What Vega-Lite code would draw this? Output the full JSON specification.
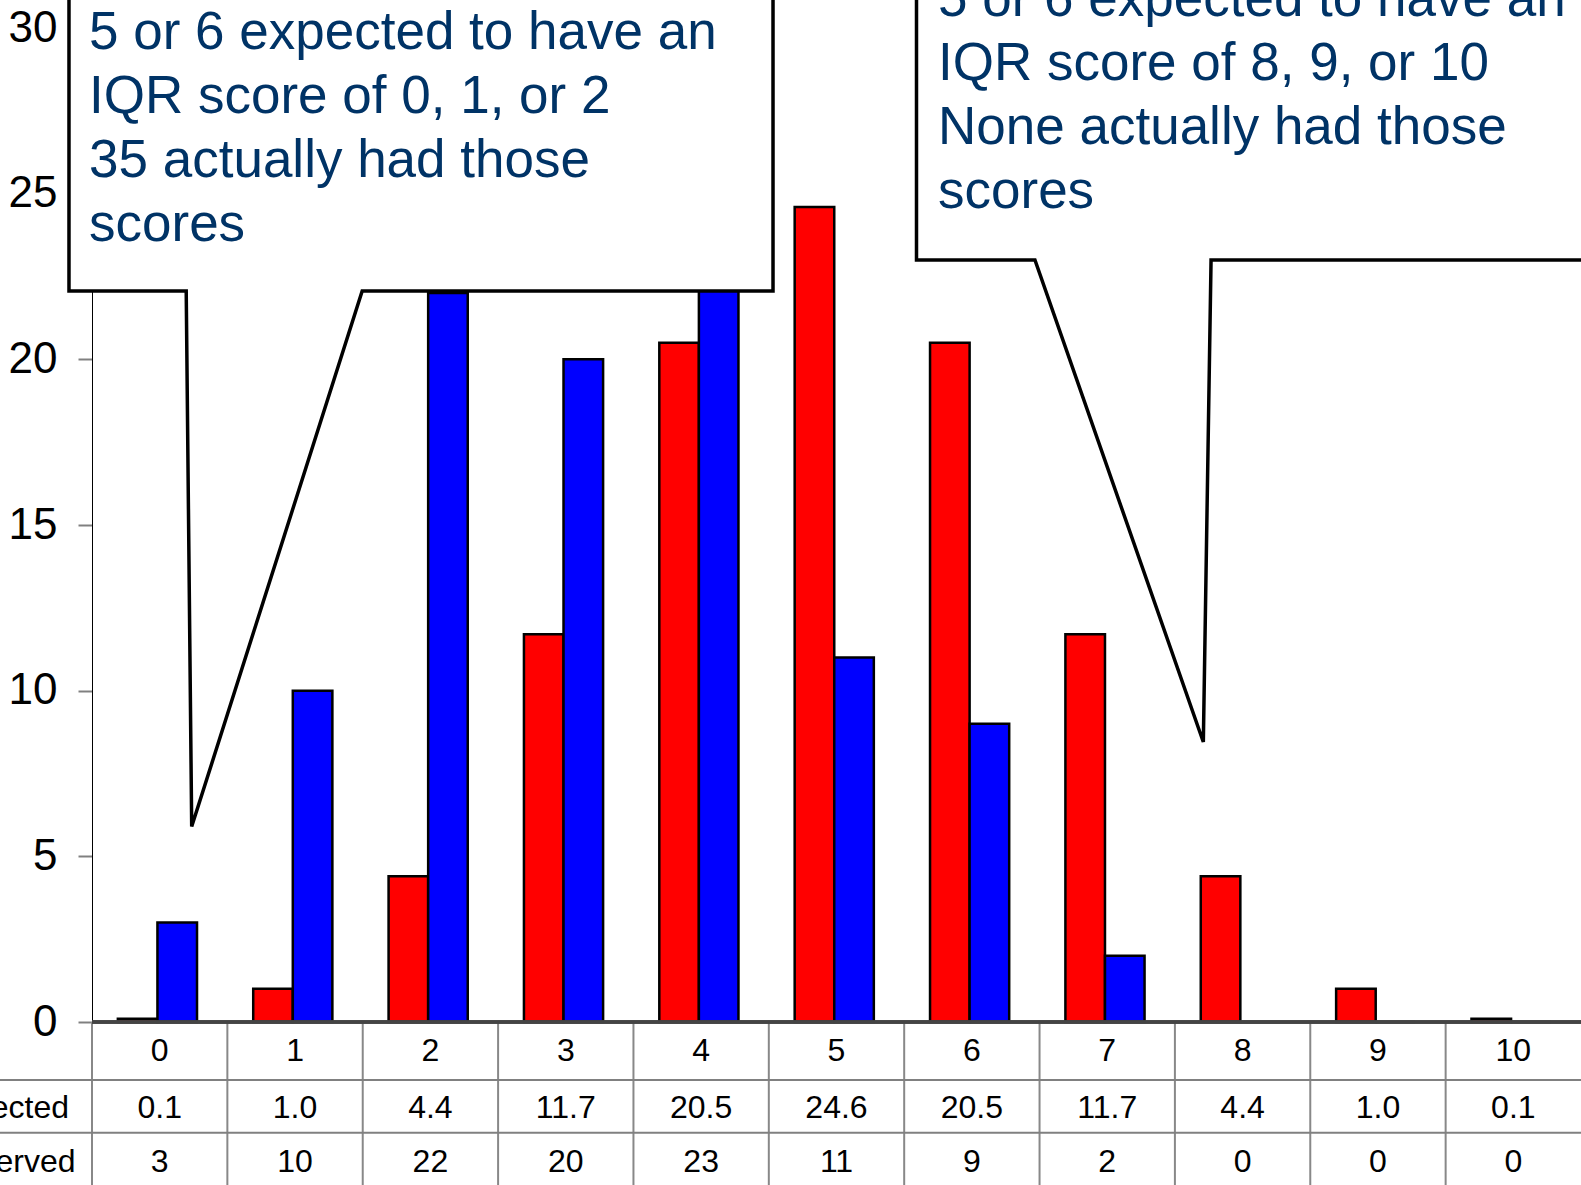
{
  "$schema": "https://vega.github.io/schema/vega-lite/v6.json",
  "width": 1489,
  "height": 994,
  "autosize": {"type": "none"},
  "padding": {"left": 92, "top": 28, "right": 0, "bottom": 163},
  "background": "white",
  "config": {"view": {"stroke": null}, "font": "Liberation Sans"},
  "datasets": {
    "scores": [
      {"score": 0, "expected": 0.1, "observed": 3},
      {"score": 1, "expected": 1.0, "observed": 10},
      {"score": 2, "expected": 4.4, "observed": 22},
      {"score": 3, "expected": 11.7, "observed": 20},
      {"score": 4, "expected": 20.5, "observed": 23},
      {"score": 5, "expected": 24.6, "observed": 11},
      {"score": 6, "expected": 20.5, "observed": 9},
      {"score": 7, "expected": 11.7, "observed": 2},
      {"score": 8, "expected": 4.4, "observed": 0},
      {"score": 9, "expected": 1.0, "observed": 0},
      {"score": 10, "expected": 0.1, "observed": 0}
    ],
    "leftCallout": [
      {"i": 0, "x": -0.17, "y": 33},
      {"i": 1, "x": -0.17, "y": 22.06},
      {"i": 2, "x": 0.696, "y": 22.06},
      {"i": 3, "x": 0.7365, "y": 5.9},
      {"i": 4, "x": 1.996, "y": 22.06},
      {"i": 5, "x": 5.031, "y": 22.06},
      {"i": 6, "x": 5.031, "y": 33}
    ],
    "rightCallout": [
      {"i": 0, "x": 6.091, "y": 33},
      {"i": 1, "x": 6.091, "y": 23.0},
      {"i": 2, "x": 6.966, "y": 23.0},
      {"i": 3, "x": 8.21, "y": 8.45},
      {"i": 4, "x": 8.267, "y": 23.0},
      {"i": 5, "x": 11.44, "y": 23.0},
      {"i": 6, "x": 11.44, "y": 33}
    ]
  },
  "resolve": {"scale": {"x": "independent"}},
  "layer": [
    {
      "data": {"name": "scores"},
      "layer": [
        {
          "transform": [{"fold": ["expected", "observed"], "as": ["key", "value"]}],
          "mark": {"type": "bar", "stroke": "black", "strokeWidth": 2.5},
          "encoding": {
            "x": {"field": "score", "type": "ordinal", "scale": {"paddingInner": 0, "paddingOuter": 0}, "axis": null},
            "xOffset": {"field": "key", "type": "nominal", "scale": {"paddingInner": 0, "paddingOuter": 0.71, "align": 0.46}},
            "y": {
              "field": "value", "type": "quantitative",
              "scale": {"domain": [0, 30], "nice": false},
              "axis": {"values": [0, 5, 10, 15, 20, 25, 30], "title": null, "grid": false, "domainColor": "black", "domainWidth": 1, "tickColor": "#808080", "tickWidth": 2, "tickSize": 14, "labelFontSize": 44, "labelColor": "black", "labelPadding": 21, "labelFont": "Liberation Sans"}
            },
            "color": {"field": "key", "type": "nominal", "scale": {"domain": ["expected", "observed"], "range": ["#FF0000", "#0000FF"]}, "legend": null}
          }
        },
        {
          "mark": {"type": "rule", "color": "#888888", "strokeWidth": 2},
          "encoding": {
            "x": {"field": "score", "type": "ordinal", "bandPosition": 0, "scale": {"paddingInner": 0, "paddingOuter": 0}, "axis": null},
            "y": {"datum": 0, "type": "quantitative", "scale": {"domain": [0, 30], "nice": false},
              "axis": {"values": [0, 5, 10, 15, 20, 25, 30], "title": null, "grid": false, "domainColor": "black", "domainWidth": 1, "tickColor": "#808080", "tickWidth": 2, "tickSize": 14, "labelFontSize": 44, "labelColor": "black", "labelPadding": 21, "labelFont": "Liberation Sans"}},
            "y2": {"datum": -5.5}
          }
        },
        {
          "mark": {"type": "text", "font": "Liberation Sans", "fontSize": 32, "color": "black", "baseline": "middle", "align": "center"},
          "encoding": {
            "x": {"field": "score", "type": "ordinal", "scale": {"paddingInner": 0, "paddingOuter": 0}, "axis": null},
            "y": {"datum": -0.875, "type": "quantitative", "scale": {"domain": [0, 30], "nice": false},
              "axis": {"values": [0, 5, 10, 15, 20, 25, 30], "title": null, "grid": false, "domainColor": "black", "domainWidth": 1, "tickColor": "#808080", "tickWidth": 2, "tickSize": 14, "labelFontSize": 44, "labelColor": "black", "labelPadding": 21, "labelFont": "Liberation Sans"}},
            "text": {"field": "score", "type": "ordinal"}
          }
        },
        {
          "mark": {"type": "text", "font": "Liberation Sans", "fontSize": 32, "color": "black", "baseline": "middle", "align": "center"},
          "encoding": {
            "x": {"field": "score", "type": "ordinal", "scale": {"paddingInner": 0, "paddingOuter": 0}, "axis": null},
            "y": {"datum": -2.596, "type": "quantitative", "scale": {"domain": [0, 30], "nice": false},
              "axis": {"values": [0, 5, 10, 15, 20, 25, 30], "title": null, "grid": false, "domainColor": "black", "domainWidth": 1, "tickColor": "#808080", "tickWidth": 2, "tickSize": 14, "labelFontSize": 44, "labelColor": "black", "labelPadding": 21, "labelFont": "Liberation Sans"}},
            "text": {"field": "expected", "type": "quantitative", "format": ".1f"}
          }
        },
        {
          "mark": {"type": "text", "font": "Liberation Sans", "fontSize": 32, "color": "black", "baseline": "middle", "align": "center"},
          "encoding": {
            "x": {"field": "score", "type": "ordinal", "scale": {"paddingInner": 0, "paddingOuter": 0}, "axis": null},
            "y": {"datum": -4.225, "type": "quantitative", "scale": {"domain": [0, 30], "nice": false},
              "axis": {"values": [0, 5, 10, 15, 20, 25, 30], "title": null, "grid": false, "domainColor": "black", "domainWidth": 1, "tickColor": "#808080", "tickWidth": 2, "tickSize": 14, "labelFontSize": 44, "labelColor": "black", "labelPadding": 21, "labelFont": "Liberation Sans"}},
            "text": {"field": "observed", "type": "quantitative", "format": "d"}
          }
        },
        {
          "mark": {"type": "rule", "color": "#444444", "strokeWidth": 2.5},
          "encoding": {
            "y": {"datum": 0, "type": "quantitative", "scale": {"domain": [0, 30], "nice": false},
              "axis": {"values": [0, 5, 10, 15, 20, 25, 30], "title": null, "grid": false, "domainColor": "black", "domainWidth": 1, "tickColor": "#808080", "tickWidth": 2, "tickSize": 14, "labelFontSize": 44, "labelColor": "black", "labelPadding": 21, "labelFont": "Liberation Sans"}}
          }
        }
      ]
    },
    {
      "layer": [
        {
          "data": {"values": [{}]},
          "mark": {"type": "rule", "color": "#808080", "strokeWidth": 2},
          "encoding": {
            "x": {"datum": -0.7, "type": "quantitative", "scale": {"domain": [0, 11], "nice": false, "zero": false}, "axis": null},
            "x2": {"datum": 11},
            "y": {"datum": -1.75, "type": "quantitative", "scale": {"domain": [0, 30], "nice": false},
              "axis": {"values": [0, 5, 10, 15, 20, 25, 30], "title": null, "grid": false, "domainColor": "black", "domainWidth": 1, "tickColor": "#808080", "tickWidth": 2, "tickSize": 14, "labelFontSize": 44, "labelColor": "black", "labelPadding": 21, "labelFont": "Liberation Sans"}}
          }
        },
        {
          "data": {"values": [{}]},
          "mark": {"type": "rule", "color": "#808080", "strokeWidth": 2},
          "encoding": {
            "x": {"datum": -0.7, "type": "quantitative", "scale": {"domain": [0, 11], "nice": false, "zero": false}, "axis": null},
            "x2": {"datum": 11},
            "y": {"datum": -3.34, "type": "quantitative", "scale": {"domain": [0, 30], "nice": false},
              "axis": {"values": [0, 5, 10, 15, 20, 25, 30], "title": null, "grid": false, "domainColor": "black", "domainWidth": 1, "tickColor": "#808080", "tickWidth": 2, "tickSize": 14, "labelFontSize": 44, "labelColor": "black", "labelPadding": 21, "labelFont": "Liberation Sans"}}
          }
        },
        {
          "data": {"values": [{}]},
          "mark": {"type": "text", "text": "Expected", "font": "Liberation Sans", "fontSize": 32, "color": "black", "baseline": "middle", "align": "right"},
          "encoding": {
            "x": {"datum": -0.17, "type": "quantitative", "scale": {"domain": [0, 11], "nice": false, "zero": false}, "axis": null},
            "y": {"datum": -2.596, "type": "quantitative", "scale": {"domain": [0, 30], "nice": false},
              "axis": {"values": [0, 5, 10, 15, 20, 25, 30], "title": null, "grid": false, "domainColor": "black", "domainWidth": 1, "tickColor": "#808080", "tickWidth": 2, "tickSize": 14, "labelFontSize": 44, "labelColor": "black", "labelPadding": 21, "labelFont": "Liberation Sans"}}
          }
        },
        {
          "data": {"values": [{}]},
          "mark": {"type": "text", "text": "Observed", "font": "Liberation Sans", "fontSize": 32, "color": "black", "baseline": "middle", "align": "right"},
          "encoding": {
            "x": {"datum": -0.122, "type": "quantitative", "scale": {"domain": [0, 11], "nice": false, "zero": false}, "axis": null},
            "y": {"datum": -4.225, "type": "quantitative", "scale": {"domain": [0, 30], "nice": false},
              "axis": {"values": [0, 5, 10, 15, 20, 25, 30], "title": null, "grid": false, "domainColor": "black", "domainWidth": 1, "tickColor": "#808080", "tickWidth": 2, "tickSize": 14, "labelFontSize": 44, "labelColor": "black", "labelPadding": 21, "labelFont": "Liberation Sans"}}
          }
        },
        {
          "data": {"name": "leftCallout"},
          "mark": {"type": "line", "fill": "white", "fillOpacity": 1, "stroke": "black", "strokeWidth": 3.5, "interpolate": "linear-closed", "strokeJoin": "miter"},
          "encoding": {
            "x": {"field": "x", "type": "quantitative", "scale": {"domain": [0, 11], "nice": false, "zero": false}, "axis": null},
            "y": {"field": "y", "type": "quantitative", "scale": {"domain": [0, 30], "nice": false},
              "axis": {"values": [0, 5, 10, 15, 20, 25, 30], "title": null, "grid": false, "domainColor": "black", "domainWidth": 1, "tickColor": "#808080", "tickWidth": 2, "tickSize": 14, "labelFontSize": 44, "labelColor": "black", "labelPadding": 21, "labelFont": "Liberation Sans"}},
            "order": {"field": "i", "type": "quantitative"}
          }
        },
        {
          "data": {"name": "rightCallout"},
          "mark": {"type": "line", "fill": "white", "fillOpacity": 1, "stroke": "black", "strokeWidth": 3.5, "interpolate": "linear-closed", "strokeJoin": "miter"},
          "encoding": {
            "x": {"field": "x", "type": "quantitative", "scale": {"domain": [0, 11], "nice": false, "zero": false}, "axis": null},
            "y": {"field": "y", "type": "quantitative", "scale": {"domain": [0, 30], "nice": false},
              "axis": {"values": [0, 5, 10, 15, 20, 25, 30], "title": null, "grid": false, "domainColor": "black", "domainWidth": 1, "tickColor": "#808080", "tickWidth": 2, "tickSize": 14, "labelFontSize": 44, "labelColor": "black", "labelPadding": 21, "labelFont": "Liberation Sans"}},
            "order": {"field": "i", "type": "quantitative"}
          }
        },
        {
          "data": {"values": [{}]},
          "mark": {"type": "text", "text": ["5 or 6 expected to have an", "IQR score of 0, 1, or 2", "35 actually had those", "scores"], "font": "Liberation Sans", "fontSize": 53, "lineHeight": 64, "color": "#003366", "align": "left", "baseline": "alphabetic"},
          "encoding": {
            "x": {"datum": -0.022, "type": "quantitative", "scale": {"domain": [0, 11], "nice": false, "zero": false}, "axis": null},
            "y": {"datum": 29.37, "type": "quantitative", "scale": {"domain": [0, 30], "nice": false},
              "axis": {"values": [0, 5, 10, 15, 20, 25, 30], "title": null, "grid": false, "domainColor": "black", "domainWidth": 1, "tickColor": "#808080", "tickWidth": 2, "tickSize": 14, "labelFontSize": 44, "labelColor": "black", "labelPadding": 21, "labelFont": "Liberation Sans"}}
          }
        },
        {
          "data": {"values": [{}]},
          "mark": {"type": "text", "text": ["5 or 6 expected to have an", "IQR score of 8, 9, or 10", "None actually had those", "scores"], "font": "Liberation Sans", "fontSize": 53, "lineHeight": 64, "color": "#003366", "align": "left", "baseline": "alphabetic"},
          "encoding": {
            "x": {"datum": 6.25, "type": "quantitative", "scale": {"domain": [0, 11], "nice": false, "zero": false}, "axis": null},
            "y": {"datum": 30.36, "type": "quantitative", "scale": {"domain": [0, 30], "nice": false},
              "axis": {"values": [0, 5, 10, 15, 20, 25, 30], "title": null, "grid": false, "domainColor": "black", "domainWidth": 1, "tickColor": "#808080", "tickWidth": 2, "tickSize": 14, "labelFontSize": 44, "labelColor": "black", "labelPadding": 21, "labelFont": "Liberation Sans"}}
          }
        }
      ]
    }
  ]
}
